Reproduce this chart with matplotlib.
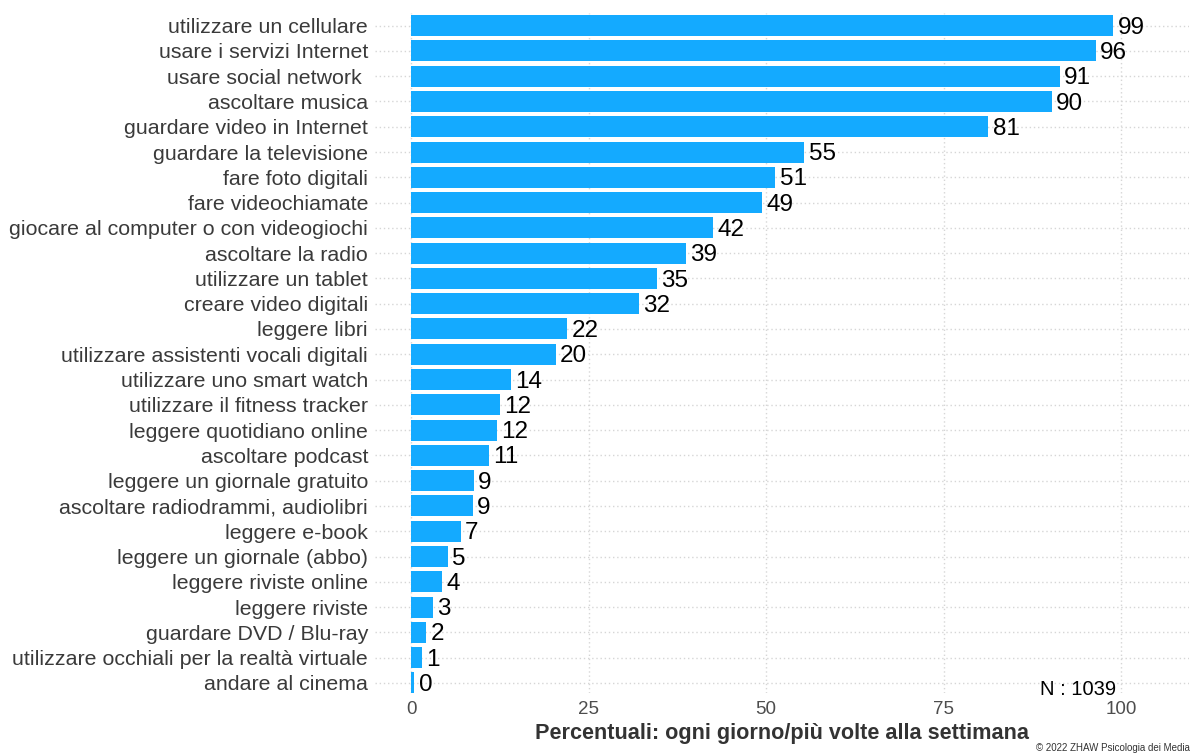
"""
Uso dei media: barre orizzontali
"""
import matplotlib
matplotlib.use("Agg")
import matplotlib.pyplot as plt

BAR_COLOR = "#14AAFF"
GRID_COLOR = "#d6d6d6"
FONTS = ['Liberation Sans', 'DejaVu Sans']

activities = [
    "utilizzare un cellulare",
    "usare i servizi Internet",
    "usare social network ",
    "ascoltare musica",
    "guardare video in Internet",
    "guardare la televisione",
    "fare foto digitali",
    "fare videochiamate",
    "giocare al computer o con videogiochi",
    "ascoltare la radio",
    "utilizzare un tablet",
    "creare video digitali",
    "leggere libri",
    "utilizzare assistenti vocali digitali",
    "utilizzare uno smart watch",
    "utilizzare il fitness tracker",
    "leggere quotidiano online",
    "ascoltare podcast",
    "leggere un giornale gratuito",
    "ascoltare radiodrammi, audiolibri",
    "leggere e-book",
    "leggere un giornale (abbo)",
    "leggere riviste online",
    "leggere riviste",
    "guardare DVD / Blu-ray",
    "utilizzare occhiali per la realtà virtuale",
    "andare al cinema",
]
percent = [98.9, 96.4, 91.4, 90.2, 81.3, 55.4, 51.3, 49.4, 42.5, 38.7,
           34.6, 32.1, 22.0, 20.4, 14.1, 12.5, 12.1, 11.0, 8.8, 8.7,
           7.0, 5.2, 4.4, 3.1, 2.1, 1.45, 0.45]
x_ticks = [0, 25, 50, 75, 100]

plt.rcParams['font.family'] = FONTS
fig = plt.figure(figsize=(11.92, 7.55), dpi=100)
ax = fig.add_axes([0.3146, 0.0821, 0.6825, 0.9007])

ypos = list(range(len(activities)))
ax.barh(ypos, percent, height=0.83, color=BAR_COLOR, zorder=2)

for y, v in zip(ypos, percent):
    ax.annotate(f"{round(v):d}", (v, y), xytext=(3, -1.5), textcoords="offset points",
                ha="left", va="center", fontsize=17.5, color="black", family=FONTS)

ax.set_yticks(ypos)
ax.set_yticklabels(activities, fontsize=15.4, color="#3a3a3a", family=FONTS)
ax.set_xticks(x_ticks)
ax.set_xticklabels([str(t) for t in x_ticks], fontsize=13.5, color="#4d4d4d",
                   family=FONTS)
ax.tick_params(axis="both", length=0)
ax.tick_params(axis="y", pad=5)
ax.tick_params(axis="x", pad=6)

ax.set_xlim(-5.1, 109.5)
ax.set_ylim(len(activities) - 0.6, -0.5)

ax.grid(True, linestyle=(0, (1, 2)), color=GRID_COLOR, linewidth=1, zorder=0)
ax.set_axisbelow(True)
for s in ax.spines.values():
    s.set_visible(False)

ax.set_xlabel("Percentuali: ogni giorno/più volte alla settimana", fontsize=15.6,
              fontweight="bold", color="#333333", labelpad=3, family=FONTS)

ax.text(99.3, len(activities) - 0.75, "N : 1039", ha="right", va="center",
        fontsize=14.5, color="black", family=FONTS)

fig.text(0.998, 0.002, "© 2022 ZHAW Psicologia dei Media", ha="right", va="bottom",
         fontsize=7, color="#333333", family=FONTS)

fig.savefig("out.png", dpi=100)
